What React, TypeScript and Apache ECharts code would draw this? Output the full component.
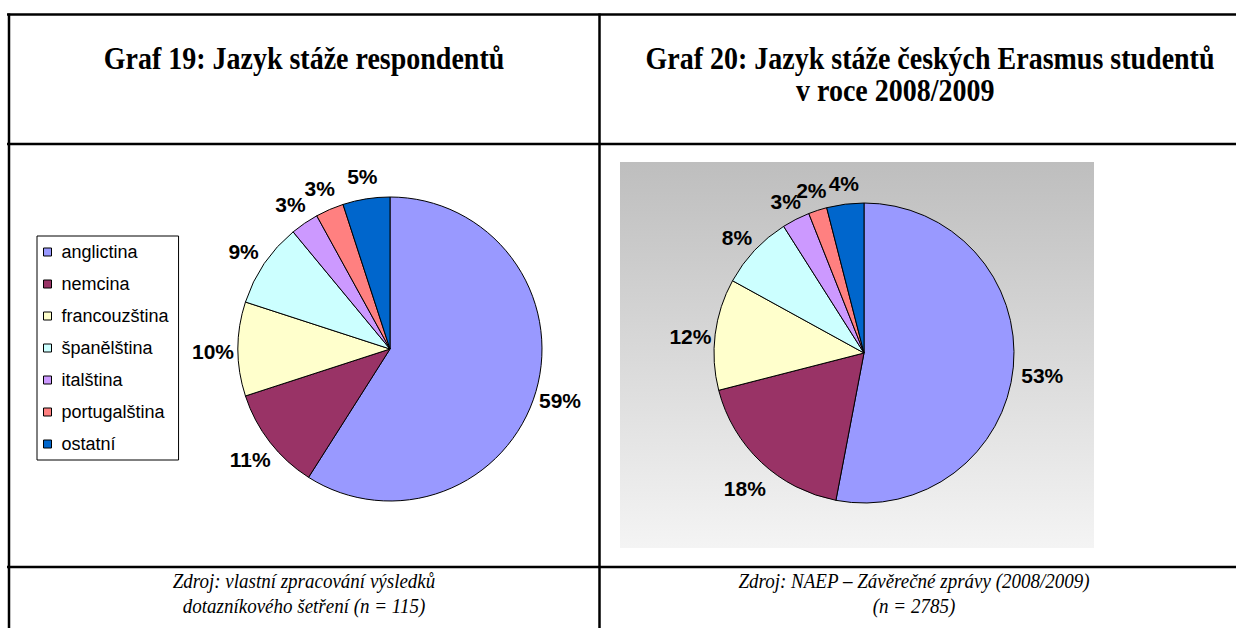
import React, { useEffect, useRef } from "react";
import * as echarts from "echarts";

const languages = ["anglictina", "nemcina", "francouzština", "španělština", "italština", "portugalština", "ostatní"];
const sliceColors = ["#9999FF", "#993366", "#FFFFCC", "#CCFFFF", "#CC99FF", "#FF8080", "#0066CC"];
const respondentsPct = [59, 11, 10, 9, 3, 3, 5];
const erasmusPct = [53, 18, 12, 8, 3, 2, 4];

const titleLeft = "Graf 19: Jazyk stáže respondentů";
const titleRight1 = "Graf 20: Jazyk stáže českých Erasmus studentů";
const titleRight2 = "v roce 2008/2009";
const sourceLeft = ["Zdroj: vlastní zpracování výsledků", "dotazníkového šetření (n = 115)"];
const sourceRight = ["Zdroj: NAEP – Závěrečné zprávy (2008/2009)", "(n = 2785)"];

const W = 1236;
const H = 628;

function pieData(vals: number[]) {
  return vals.map((v, i) => ({ name: languages[i], value: v, itemStyle: { color: sliceColors[i] } }));
}

// label anchors: [radius (0..1 of polar radius), mid-angle in the 0..100 share scale]
function labelAnchors(vals: number[]) {
  let acc = 0;
  return vals.map((v) => {
    const mid = acc + v / 2;
    acc += v;
    return { value: [1, mid], pct: v };
  });
}

export default function App() {
  const ref = useRef<HTMLDivElement>(null);
  useEffect(() => {
    document.body.style.margin = "0";
    if (!ref.current) return;
    const chart = echarts.init(ref.current, undefined, { renderer: "svg" });
    const L = { cx: 390, cy: 349, r: 152 };
    const R = { cx: 864, cy: 353, r: 150 };
    const pieBase = {
      type: "pie",
      startAngle: 90,
      clockwise: true,
      avoidLabelOverlap: false,
      label: { show: false },
      labelLine: { show: false },
      emphasis: { disabled: true },
      itemStyle: { borderColor: "#000", borderWidth: 1 },
      silent: true,
    };
    const labelSeries = (polarIndex: number, vals: number[]) => ({
      type: "scatter",
      coordinateSystem: "polar",
      polarIndex,
      symbolSize: 1,
      silent: true,
      itemStyle: { color: "#000", opacity: 1 },
      emphasis: { disabled: true },
      labelLayout: { hideOverlap: false },
      label: {
        show: true,
        position: "inside",
        formatter: (p: any) => p.data.pct + "%",
        color: "#000",
        opacity: 1,
        textBorderWidth: 0,
        fontWeight: "bold",
        fontSize: 21,
        fontFamily: "Liberation Sans, Arial, sans-serif",
      },
      data: labelAnchors(vals),
      z: 1,
    });
    const line = (x1: number, y1: number, x2: number, y2: number) => ({
      type: "line",
      shape: { x1, y1, x2, y2 },
      style: { stroke: "#000", lineWidth: 2.5 },
      z: 10,
    });
    const txt = (text: string, x: number, y: number, kind: "title" | "src", align: string = "center") => ({
      type: "text",
      x,
      y,
      scaleY: 1.15,
      style: {
        text,
        fill: "#000",
        fontFamily: "Liberation Serif, Times New Roman, serif",
        fontSize: kind === "title" ? 28 : 19,
        fontWeight: kind === "title" ? "bold" : "normal",
        fontStyle: kind === "title" ? "normal" : "italic",
        textAlign: align,
        textVerticalAlign: "middle",
      },
      z: 10,
    });
    const hiddenAngle = (polarIndex: number) => ({ polarIndex, type: "value", min: 0, max: 100, startAngle: 90, clockwise: true, show: false });
    const hiddenRadius = (polarIndex: number) => ({ polarIndex, type: "value", min: 0, max: 1, show: false });
    chart.setOption({
      animation: false,
      backgroundColor: "#fff",
      polar: [
        { center: [L.cx, L.cy + 2], radius: L.r + 25 },
        { center: [R.cx + 2, R.cy + 6], radius: R.r + 27 },
      ],
      angleAxis: [hiddenAngle(0), hiddenAngle(1)],
      radiusAxis: [hiddenRadius(0), hiddenRadius(1)],
      legend: {
        data: languages,
        orient: "vertical",
        left: 37,
        top: 236,
        icon: "rect",
        itemWidth: 8,
        itemHeight: 8,
        itemGap: 14,
        padding: [7, 10, 7, 6],
        borderColor: "#000",
        borderWidth: 1,
        backgroundColor: "#fff",
        selectedMode: false,
        itemStyle: { borderColor: "#000", borderWidth: 1 },
        textStyle: {
          fontSize: 18,
          lineHeight: 18,
          color: "#000",
          fontFamily: "Liberation Sans, Arial, sans-serif",
          padding: [0, 0, 0, 5],
        },
      },
      graphic: [
        {
          type: "rect",
          shape: { x: 620, y: 162, width: 474, height: 386 },
          style: {
            fill: {
              type: "linear",
              x: 0,
              y: 0,
              x2: 0,
              y2: 1,
              colorStops: [
                { offset: 0, color: "#BEBEBE" },
                { offset: 1, color: "#F4F4F4" },
              ],
            },
          },
          z: -10,
        },
        line(7, 14.5, W, 14.5),
        line(7, 144, W, 144),
        line(7, 567, W, 567),
        line(9, 13.5, 9, H),
        line(599.5, 13.5, 599.5, H),
        txt(titleLeft, 304, 58, "title"),
        txt(titleRight1, 930, 58, "title"),
        txt(titleRight2, 796, 90, "title", "left"),
        txt(sourceLeft[0], 304, 581, "src"),
        txt(sourceLeft[1], 304, 606, "src"),
        txt(sourceRight[0], 914, 581, "src"),
        txt(sourceRight[1], 914, 606, "src"),
      ],
      series: [
        { ...pieBase, name: "respondenti", center: [L.cx, L.cy], radius: [0, L.r], data: pieData(respondentsPct), z: 2 },
        { ...pieBase, name: "erasmus", center: [R.cx, R.cy], radius: [0, R.r], data: pieData(erasmusPct), z: 2 },
        labelSeries(0, respondentsPct),
        labelSeries(1, erasmusPct),
      ],
    });
    return () => chart.dispose();
  }, []);
  return <div ref={ref} style={{ width: W, height: H }} />;
}
